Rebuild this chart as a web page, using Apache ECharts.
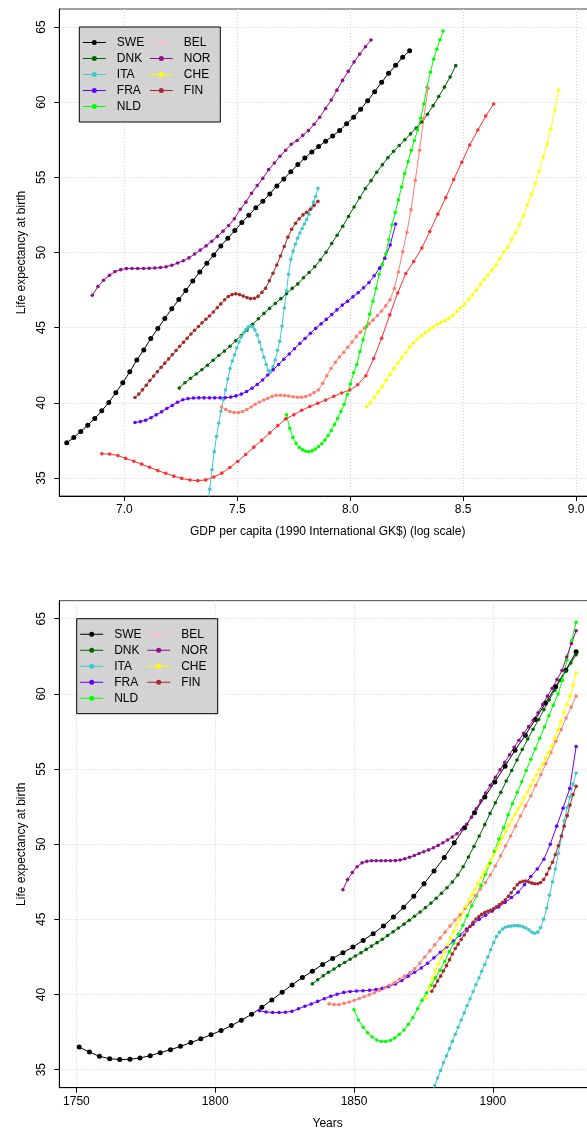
<!DOCTYPE html>
<html><head><meta charset="utf-8">
<script src="https://cdn.jsdelivr.net/npm/echarts@6/dist/echarts.min.js"></script>
<style>html,body{margin:0;padding:0;background:#fff}#c{width:587px;height:1133px}</style>
</head><body><div id="c"></div>
<script>
// ---------- DATA ----------
const countries = ['SWE','DNK','ITA','FRA','NLD','BEL','NOR','CHE','FIN'];
const xTicksTop = [7.0, 7.5, 8.0, 8.5, 9.0];
const xTicksBottom = [1750, 1800, 1850, 1900];
const yTicks = [35, 40, 45, 50, 55, 60, 65];

// Top panel: log GDP per capita vs life expectancy
const topSWE_x = [6.745,6.776,6.807,6.838,6.869,6.900,6.931,6.962,6.993,7.024,7.055,7.086,7.117,7.148,7.179,7.210,7.241,7.272,7.303,7.334,7.365,7.396,7.427,7.458,7.489,7.520,7.551,7.582,7.613,7.644,7.675,7.706,7.737,7.768,7.799,7.830,7.860,7.891,7.922,7.953,7.984,8.015,8.046,8.077,8.108,8.139,8.170,8.201,8.232,8.263];
const topSWE_y = [37.34,37.69,38.09,38.51,38.96,39.47,40.02,40.67,41.33,42.06,42.84,43.52,44.28,44.94,45.61,46.25,46.87,47.47,48.11,48.71,49.29,49.84,50.44,50.95,51.46,51.99,52.48,52.97,53.41,53.90,54.43,54.89,55.38,55.85,56.29,56.69,57.05,57.40,57.75,58.11,58.56,59.00,59.53,60.10,60.70,61.32,61.92,62.45,62.99,63.42];
const topDNK_x = [7.243,7.268,7.293,7.318,7.343,7.368,7.393,7.418,7.443,7.468,7.493,7.518,7.543,7.568,7.593,7.618,7.643,7.668,7.693,7.718,7.743,7.768,7.793,7.818,7.843,7.868,7.893,7.918,7.942,7.967,7.992,8.017,8.042,8.067,8.092,8.117,8.142,8.167,8.192,8.217,8.242,8.267,8.292,8.317,8.342,8.367,8.392,8.417,8.442,8.467];
const topDNK_y = [40.98,41.33,41.63,41.92,42.20,42.50,42.83,43.15,43.44,43.76,44.13,44.48,44.84,45.22,45.59,45.95,46.28,46.61,46.93,47.26,47.61,47.91,48.32,48.67,49.06,49.51,50.02,50.60,51.15,51.75,52.40,53.03,53.65,54.25,54.78,55.34,55.83,56.31,56.73,57.12,57.50,57.89,58.28,58.68,59.20,59.77,60.38,61.00,61.67,62.43];
const topITA_x = [7.368,7.378,7.388,7.398,7.408,7.418,7.428,7.438,7.448,7.458,7.468,7.478,7.488,7.498,7.508,7.518,7.528,7.538,7.548,7.558,7.568,7.578,7.588,7.598,7.608,7.618,7.628,7.638,7.648,7.658,7.668,7.678,7.688,7.698,7.708,7.718,7.727,7.737,7.747,7.757,7.767,7.777,7.787,7.797,7.807,7.817,7.827,7.837,7.847,7.857];
const topITA_y = [32.90,34.25,35.55,36.75,37.76,38.65,39.45,40.20,40.86,41.58,42.28,42.78,43.19,43.65,44.05,44.40,44.65,44.88,45.04,45.12,45.05,44.85,44.50,44.05,43.55,43.03,42.55,42.15,42.05,42.40,42.85,43.50,44.10,45.10,46.30,47.45,48.55,49.55,50.10,50.55,50.95,51.30,51.60,51.90,52.20,52.55,52.95,53.35,53.72,54.27];
const topFRA_x = [7.047,7.071,7.094,7.118,7.141,7.165,7.188,7.212,7.235,7.259,7.282,7.306,7.330,7.353,7.377,7.400,7.424,7.447,7.471,7.494,7.518,7.541,7.565,7.588,7.612,7.635,7.659,7.683,7.706,7.730,7.753,7.777,7.800,7.824,7.847,7.871,7.894,7.918,7.941,7.965,7.988,8.012,8.035,8.059,8.083,8.106,8.130,8.153,8.177,8.201];
const topFRA_y = [38.69,38.75,38.84,39.01,39.20,39.40,39.62,39.82,40.04,40.20,40.28,40.32,40.33,40.33,40.33,40.33,40.33,40.34,40.38,40.46,40.58,40.75,40.97,41.22,41.52,41.85,42.20,42.55,42.90,43.25,43.60,43.95,44.28,44.62,44.95,45.25,45.55,45.87,46.18,46.50,46.75,47.05,47.32,47.65,48.00,48.45,48.96,49.62,50.50,51.90];
const topNLD_x = [7.718,7.732,7.746,7.760,7.775,7.789,7.803,7.817,7.831,7.845,7.859,7.874,7.888,7.902,7.916,7.930,7.944,7.959,7.973,7.987,8.001,8.015,8.029,8.043,8.057,8.072,8.086,8.100,8.114,8.128,8.142,8.157,8.171,8.185,8.199,8.213,8.227,8.241,8.256,8.270,8.284,8.298,8.312,8.326,8.340,8.355,8.369,8.383,8.397,8.411];
const topNLD_y = [39.20,38.30,37.70,37.30,37.03,36.87,36.78,36.75,36.80,36.92,37.08,37.28,37.52,37.82,38.16,38.55,38.95,39.42,39.90,40.55,41.25,42.00,42.55,43.40,44.20,45.07,45.90,46.75,47.60,48.55,49.20,49.90,50.85,51.85,52.65,53.50,54.35,55.25,56.05,56.80,57.45,58.15,58.95,59.90,61.00,62.00,62.85,63.52,64.15,64.73];
const topBEL_x = [7.430,7.449,7.467,7.486,7.505,7.523,7.542,7.561,7.579,7.598,7.617,7.635,7.654,7.672,7.691,7.710,7.728,7.747,7.766,7.784,7.803,7.822,7.840,7.859,7.878,7.896,7.915,7.934,7.952,7.971,7.989,8.008,8.027,8.045,8.064,8.083,8.101,8.120,8.139,8.157,8.176,8.195,8.213,8.232,8.251,8.269,8.288,8.307,8.325,8.344];
const topBEL_y = [39.72,39.55,39.42,39.35,39.35,39.42,39.55,39.72,39.90,40.05,40.18,40.30,40.42,40.50,40.50,40.48,40.45,40.40,40.37,40.37,40.42,40.52,40.68,40.85,41.30,41.80,42.28,42.70,43.05,43.35,43.70,44.05,44.40,44.70,44.97,45.25,45.50,45.80,46.10,46.45,46.85,47.60,48.70,50.05,51.35,52.85,54.80,56.80,58.90,60.92];
const topNOR_x = [6.858,6.883,6.908,6.934,6.959,6.984,7.009,7.034,7.059,7.085,7.110,7.135,7.160,7.185,7.210,7.236,7.261,7.286,7.311,7.336,7.362,7.387,7.412,7.437,7.462,7.487,7.513,7.538,7.563,7.588,7.613,7.639,7.664,7.689,7.714,7.739,7.765,7.790,7.815,7.840,7.865,7.891,7.916,7.941,7.966,7.991,8.017,8.042,8.067,8.092];
const topNOR_y = [47.16,47.73,48.15,48.48,48.73,48.86,48.93,48.94,48.94,48.94,48.95,48.97,49.00,49.05,49.15,49.30,49.45,49.64,49.90,50.16,50.44,50.75,51.07,51.42,51.80,52.24,52.87,53.35,53.94,54.45,54.93,55.52,55.95,56.40,56.80,57.20,57.45,57.79,58.11,58.53,59.00,59.58,60.15,60.80,61.45,62.05,62.68,63.20,63.69,64.14];
const topCHE_x = [8.072,8.089,8.107,8.124,8.141,8.159,8.176,8.194,8.211,8.228,8.246,8.263,8.280,8.298,8.315,8.333,8.350,8.367,8.385,8.402,8.419,8.437,8.454,8.472,8.489,8.506,8.524,8.541,8.558,8.576,8.593,8.610,8.628,8.645,8.663,8.680,8.697,8.715,8.732,8.749,8.767,8.784,8.802,8.819,8.836,8.854,8.871,8.888,8.906,8.923];
const topCHE_y = [39.75,40.01,40.35,40.71,41.08,41.50,41.88,42.29,42.65,43.00,43.35,43.70,44.00,44.25,44.45,44.67,44.85,45.03,45.22,45.34,45.47,45.63,45.82,46.07,46.32,46.58,46.87,47.17,47.51,47.86,48.20,48.52,48.84,49.15,49.60,50.03,50.37,50.85,51.31,51.86,52.45,53.18,53.85,54.60,55.40,56.35,57.22,58.20,59.50,60.81];
const topFIN_x = [7.047,7.064,7.080,7.097,7.113,7.130,7.146,7.163,7.179,7.196,7.212,7.229,7.245,7.262,7.278,7.295,7.311,7.328,7.344,7.361,7.377,7.394,7.411,7.427,7.444,7.460,7.477,7.493,7.510,7.526,7.543,7.559,7.576,7.592,7.609,7.625,7.642,7.658,7.675,7.691,7.708,7.724,7.741,7.758,7.774,7.791,7.807,7.824,7.840,7.857];
const topFIN_y = [40.35,40.58,40.86,41.17,41.48,41.78,42.07,42.36,42.64,42.92,43.20,43.48,43.76,44.03,44.30,44.58,44.83,45.08,45.32,45.56,45.78,46.04,46.32,46.58,46.86,47.07,47.20,47.25,47.20,47.10,47.00,46.93,46.95,47.08,47.35,47.62,48.12,48.62,49.17,49.77,50.40,51.02,51.55,51.95,52.25,52.50,52.68,52.88,53.12,53.40];
// unlabelled red curve in the top panel
const topRed_x = [6.900,6.935,6.971,7.006,7.042,7.077,7.112,7.148,7.183,7.219,7.254,7.290,7.325,7.360,7.396,7.431,7.467,7.502,7.537,7.573,7.608,7.644,7.679,7.714,7.750,7.785,7.821,7.856,7.891,7.927,7.962,7.998,8.033,8.069,8.104,8.139,8.175,8.210,8.246,8.281,8.317,8.352,8.388,8.423,8.458,8.494,8.529,8.565,8.600,8.635];
const topRed_y = [36.61,36.59,36.49,36.30,36.11,35.92,35.71,35.49,35.31,35.12,34.97,34.86,34.82,34.87,35.06,35.32,35.70,36.10,36.56,37.05,37.50,38.00,38.48,38.93,39.20,39.50,39.75,39.97,40.18,40.43,40.65,40.85,41.20,41.80,42.95,44.30,45.85,47.30,48.60,49.40,50.30,51.40,52.55,53.65,54.85,56.00,57.15,58.15,59.08,59.88];

// Bottom panel: year vs life expectancy
const botSWE_x = [1751.0,1754.7,1758.3,1762.0,1765.6,1769.3,1772.9,1776.6,1780.2,1783.9,1787.5,1791.2,1794.8,1798.5,1802.1,1805.8,1809.4,1813.1,1816.8,1820.4,1824.1,1827.7,1831.4,1835.0,1838.7,1842.3,1846.0,1849.6,1853.3,1856.9,1860.6,1864.2,1867.9,1871.5,1875.2,1878.8,1882.5,1886.1,1889.8,1893.4,1897.1,1900.7,1904.4,1908.0,1911.7,1915.3,1919.0,1922.6,1926.3,1930.0];
const botSWE_y = [36.50,36.17,35.89,35.73,35.67,35.69,35.78,35.93,36.13,36.33,36.55,36.80,37.05,37.33,37.60,37.93,38.29,38.68,39.15,39.64,40.15,40.64,41.13,41.55,42.00,42.40,42.78,43.16,43.60,44.05,44.56,45.15,45.81,46.53,47.37,48.21,49.12,50.09,51.10,52.10,53.14,54.14,55.19,56.25,57.25,58.30,59.40,60.47,61.58,62.80];
const botDNK_x = [1835.0,1836.9,1838.9,1840.8,1842.8,1844.7,1846.6,1848.6,1850.5,1852.5,1854.4,1856.3,1858.3,1860.2,1862.1,1864.1,1866.0,1868.0,1869.9,1871.8,1873.8,1875.7,1877.7,1879.6,1881.5,1883.5,1885.4,1887.4,1889.3,1891.2,1893.2,1895.1,1897.1,1899.0,1900.9,1902.9,1904.8,1906.8,1908.7,1910.6,1912.6,1914.5,1916.5,1918.4,1920.3,1922.3,1924.2,1926.2,1928.1,1930.0];
const botDNK_y = [40.71,40.98,41.24,41.48,41.70,41.92,42.13,42.35,42.56,42.78,43.00,43.22,43.45,43.68,43.92,44.17,44.42,44.68,44.94,45.21,45.49,45.78,46.08,46.40,46.74,47.10,47.48,47.95,48.50,49.15,49.85,50.55,51.30,52.05,52.75,53.45,54.20,54.90,55.60,56.30,57.00,57.65,58.30,58.95,59.60,60.25,60.90,61.50,62.05,62.60];
const botITA_x = [1878.0,1879.1,1880.1,1881.2,1882.2,1883.3,1884.4,1885.4,1886.5,1887.5,1888.6,1889.7,1890.7,1891.8,1892.9,1893.9,1895.0,1896.0,1897.1,1898.2,1899.2,1900.3,1901.3,1902.4,1903.5,1904.5,1905.6,1906.6,1907.7,1908.8,1909.8,1910.9,1911.9,1913.0,1914.1,1915.1,1916.2,1917.2,1918.3,1919.4,1920.4,1921.5,1922.5,1923.6,1924.7,1925.7,1926.8,1927.8,1928.9,1930.0];
const botITA_y = [33.45,33.95,34.45,34.95,35.45,35.92,36.40,36.88,37.35,37.82,38.30,38.78,39.25,39.72,40.20,40.65,41.10,41.55,42.00,42.50,42.98,43.45,43.85,44.15,44.35,44.47,44.53,44.55,44.58,44.58,44.56,44.50,44.42,44.30,44.15,44.08,44.15,44.45,45.00,45.75,46.60,47.50,48.35,49.40,50.50,51.55,52.45,53.15,54.00,54.74];
const botFRA_x = [1816.0,1818.3,1820.7,1823.0,1825.3,1827.6,1830.0,1832.3,1834.6,1836.9,1839.3,1841.6,1843.9,1846.3,1848.6,1850.9,1853.2,1855.6,1857.9,1860.2,1862.5,1864.9,1867.2,1869.5,1871.8,1874.2,1876.5,1878.8,1881.1,1883.5,1885.8,1888.1,1890.5,1892.8,1895.1,1897.4,1899.8,1902.1,1904.4,1906.7,1909.1,1911.4,1913.7,1916.0,1918.4,1920.7,1923.0,1925.3,1927.7,1930.0];
const botFRA_y = [38.92,38.84,38.80,38.80,38.82,38.88,39.05,39.22,39.37,39.54,39.72,39.88,40.02,40.14,40.20,40.23,40.25,40.28,40.33,40.41,40.53,40.70,40.93,41.22,41.48,41.76,42.08,42.44,42.81,43.16,43.55,43.95,44.35,44.68,45.00,45.28,45.55,45.82,46.12,46.45,46.80,47.30,47.85,48.35,49.00,50.00,51.20,52.40,53.70,56.50];
const botNLD_x = [1850.0,1851.6,1853.3,1854.9,1856.5,1858.2,1859.8,1861.4,1863.1,1864.7,1866.3,1868.0,1869.6,1871.2,1872.9,1874.5,1876.1,1877.8,1879.4,1881.0,1882.7,1884.3,1885.9,1887.6,1889.2,1890.8,1892.4,1894.1,1895.7,1897.3,1899.0,1900.6,1902.2,1903.9,1905.5,1907.1,1908.8,1910.4,1912.0,1913.7,1915.3,1916.9,1918.6,1920.2,1921.8,1923.5,1925.1,1926.7,1928.4,1930.0];
const botNLD_y = [38.98,38.30,37.82,37.45,37.17,36.97,36.88,36.87,36.95,37.11,37.35,37.64,38.02,38.45,39.05,39.62,40.10,40.62,41.12,41.62,42.20,42.85,43.42,44.00,44.60,45.25,45.90,46.55,47.25,48.00,48.75,49.55,50.35,51.10,51.95,52.70,53.45,54.15,54.90,55.65,56.35,57.05,57.80,58.55,59.25,60.00,60.90,62.25,63.55,64.76];
const botBEL_x = [1841.0,1842.8,1844.6,1846.4,1848.3,1850.1,1851.9,1853.7,1855.5,1857.3,1859.2,1861.0,1862.8,1864.6,1866.4,1868.2,1870.1,1871.9,1873.7,1875.5,1877.3,1879.1,1881.0,1882.8,1884.6,1886.4,1888.2,1890.0,1891.9,1893.7,1895.5,1897.3,1899.1,1900.9,1902.8,1904.6,1906.4,1908.2,1910.0,1911.8,1913.7,1915.5,1917.3,1919.1,1920.9,1922.7,1924.6,1926.4,1928.2,1930.0];
const botBEL_y = [39.38,39.33,39.33,39.41,39.50,39.62,39.73,39.85,39.98,40.12,40.28,40.45,40.62,40.80,41.02,41.22,41.45,41.72,42.08,42.50,42.90,43.30,43.75,44.15,44.55,44.95,45.30,45.72,46.15,46.58,47.02,47.45,47.95,48.55,49.22,49.88,50.55,51.20,51.88,52.55,53.22,53.92,54.62,55.35,56.10,56.85,57.62,58.40,59.12,59.85];
const botNOR_x = [1846.0,1847.7,1849.4,1851.1,1852.9,1854.6,1856.3,1858.0,1859.7,1861.4,1863.1,1864.9,1866.6,1868.3,1870.0,1871.7,1873.4,1875.1,1876.9,1878.6,1880.3,1882.0,1883.7,1885.4,1887.1,1888.9,1890.6,1892.3,1894.0,1895.7,1897.4,1899.1,1900.9,1902.6,1904.3,1906.0,1907.7,1909.4,1911.1,1912.9,1914.6,1916.3,1918.0,1919.7,1921.4,1923.1,1924.9,1926.6,1928.3,1930.0];
const botNOR_y = [46.97,47.65,48.12,48.50,48.76,48.86,48.90,48.90,48.90,48.90,48.90,48.91,48.95,49.03,49.13,49.25,49.38,49.50,49.62,49.76,49.92,50.10,50.28,50.48,50.70,50.98,51.32,51.80,52.35,52.88,53.40,53.92,54.45,54.95,55.45,55.95,56.45,56.92,57.38,57.82,58.25,58.75,59.30,59.85,60.38,60.95,61.55,62.45,63.35,64.20];
const botCHE_x = [1876.0,1877.1,1878.2,1879.3,1880.4,1881.5,1882.6,1883.7,1884.8,1885.9,1887.0,1888.1,1889.2,1890.3,1891.4,1892.5,1893.6,1894.7,1895.8,1896.9,1898.0,1899.1,1900.2,1901.3,1902.4,1903.5,1904.7,1905.8,1906.9,1908.0,1909.1,1910.2,1911.3,1912.4,1913.5,1914.6,1915.7,1916.8,1917.9,1919.0,1920.1,1921.2,1922.3,1923.4,1924.5,1925.6,1926.7,1927.8,1928.9,1930.0];
const botCHE_y = [39.75,40.50,41.05,41.58,42.05,42.45,42.85,43.30,43.75,44.20,44.62,45.03,45.45,45.85,46.25,46.65,47.02,47.40,47.80,48.15,48.55,48.92,49.28,49.65,50.05,50.45,50.85,51.25,51.62,52.00,52.35,52.70,53.08,53.46,53.85,54.23,54.60,54.97,55.33,55.72,56.12,56.55,57.05,57.60,58.15,58.75,59.30,59.85,60.55,61.40];
const botFIN_x = [1878.0,1879.1,1880.1,1881.2,1882.2,1883.3,1884.4,1885.4,1886.5,1887.5,1888.6,1889.7,1890.7,1891.8,1892.9,1893.9,1895.0,1896.0,1897.1,1898.2,1899.2,1900.3,1901.3,1902.4,1903.5,1904.5,1905.6,1906.6,1907.7,1908.8,1909.8,1910.9,1911.9,1913.0,1914.1,1915.1,1916.2,1917.2,1918.3,1919.4,1920.4,1921.5,1922.5,1923.6,1924.7,1925.7,1926.8,1927.8,1928.9,1930.0];
const botFIN_y = [40.22,40.57,40.90,41.22,41.56,41.92,42.32,42.70,43.06,43.35,43.66,43.96,44.24,44.53,44.80,45.02,45.19,45.33,45.45,45.54,45.61,45.71,45.84,45.98,46.13,46.30,46.53,46.77,47.05,47.30,47.47,47.54,47.55,47.49,47.41,47.37,47.37,47.45,47.65,48.00,48.40,48.80,49.30,49.90,50.55,51.20,51.90,52.60,53.30,53.85];

// ---------- STYLE ----------
const FONT = "'Liberation Sans', Arial, Helvetica, sans-serif";
const lineColors = {SWE:'#000000', DNK:'#006400', ITA:'#40C8CE', FRA:'#6400FF', NLD:'#00FF00',
  BEL:'#FA8072', NOR:'#8E0E8E', CHE:'#FFFF00', FIN:'#A52A2A', RED:'#FF3030'};
const legendColors = Object.assign({}, lineColors, {BEL:'#FFC0CB'});

const topData = {SWE:[topSWE_x,topSWE_y], DNK:[topDNK_x,topDNK_y], ITA:[topITA_x,topITA_y], FRA:[topFRA_x,topFRA_y],
  NLD:[topNLD_x,topNLD_y], BEL:[topBEL_x,topBEL_y], NOR:[topNOR_x,topNOR_y], CHE:[topCHE_x,topCHE_y], FIN:[topFIN_x,topFIN_y]};
const botData = {SWE:[botSWE_x,botSWE_y], DNK:[botDNK_x,botDNK_y], ITA:[botITA_x,botITA_y], FRA:[botFRA_x,botFRA_y],
  NLD:[botNLD_x,botNLD_y], BEL:[botBEL_x,botBEL_y], NOR:[botNOR_x,botNOR_y], CHE:[botCHE_x,botCHE_y], FIN:[botFIN_x,botFIN_y]};

function mk(name, xs, ys, color, idx) {
  return {
    type: 'line', name: name, xAxisIndex: idx, yAxisIndex: idx,
    data: xs.map((x, i) => [x, ys[i]]),
    symbol: 'circle', symbolSize: name === 'SWE' ? 5 : 3.6, showSymbol: true,
    lineStyle: { color: color, width: 1 }, itemStyle: { color: color, borderWidth: 0 },
    clip: true, silent: true, animation: false, emphasis: { disabled: true }
  };
}

const series = [];
countries.forEach(c => series.push(mk(c, topData[c][0], topData[c][1], lineColors[c], 0)));
series.push(mk('extra', topRed_x, topRed_y, lineColors.RED, 0));
countries.forEach(c => series.push(mk(c, botData[c][0], botData[c][1], lineColors[c], 1)));

const legendIcon = 'path://M0,0h0.01v0.01h-0.01z M23,14h-0.01v-0.01h0.01z M0,6.5h23v1h-23z M14,7a2.5,2.5 0 1,1 -5,0a2.5,2.5 0 1,1 5,0z';
function legendCfg(left, top) {
  return {
    show: true, orient: 'vertical', left: left, top: top, height: 80,
    itemGap: 2, itemWidth: 23, itemHeight: 14,
    padding: [8.5, 5.5, 8.5, 3.5],
    backgroundColor: '#D3D3D3', borderColor: '#000', borderWidth: 1, borderRadius: 0,
    icon: legendIcon, itemStyle: { borderWidth: 0 }, selectedMode: false,
    textStyle: { fontFamily: FONT, fontSize: 12, color: '#000', width: 31, padding: [0, 0, 0, 6], lineHeight: 14 },
    data: countries.map(c => ({ name: c, itemStyle: { color: legendColors[c] } }))
  };
}

function yAx(idx) {
  return {
    type: 'value', gridIndex: idx, min: 33.8, max: 66.2,
    name: 'Life expectancy at birth', nameLocation: 'middle', nameGap: 31, nameRotate: 90,
    nameTextStyle: { fontFamily: FONT, fontSize: 12, color: '#000' },
    axisLine: { show: true, lineStyle: { color: '#000', width: 1 } },
    axisTick: { show: true, length: 5, customValues: yTicks, lineStyle: { color: '#000' } },
    axisLabel: { customValues: yTicks, rotate: 90, margin: 12, fontFamily: FONT, fontSize: 12, color: '#000' },
    splitLine: { show: true, lineStyle: { color: '#D3D3D3', width: 1, type: [1, 2] } }
  };
}
function xAx(idx, min, max, ticks, name, fmt) {
  return {
    type: 'value', gridIndex: idx, min: min, max: max,
    name: name, nameLocation: 'middle', nameGap: 30,
    nameTextStyle: { fontFamily: FONT, fontSize: 12, color: '#000' },
    axisLine: { show: true, onZero: false, lineStyle: { color: '#000', width: 1 } },
    axisTick: { show: true, length: 5, customValues: ticks, lineStyle: { color: '#000' } },
    axisLabel: { customValues: ticks, margin: 8, fontFamily: FONT, fontSize: 12, color: '#000', formatter: fmt },
    splitLine: { show: true, lineStyle: { color: '#D3D3D3', width: 1, type: [1, 2] } }
  };
}

const chart = echarts.init(document.getElementById('c'), null, { renderer: 'canvas' });
chart.setOption({
  animation: false,
  backgroundColor: '#fff',
  grid: [
    { left: 59.3, top: 9, width: 536.7, height: 487, show: true, borderColor: '#444', borderWidth: 1,
      backgroundColor: 'transparent', containLabel: false, outerBoundsMode: 'none' },
    { left: 59.3, top: 600.7, width: 536.7, height: 487, show: true, borderColor: '#444', borderWidth: 1,
      backgroundColor: 'transparent', containLabel: false, outerBoundsMode: 'none' }
  ],
  xAxis: [
    xAx(0, 6.712, 9.088, xTicksTop, 'GDP per capita (1990 International GK$) (log scale)', v => v.toFixed(1)),
    xAx(1, 1743.84, 1937.16, xTicksBottom, 'Years', v => String(Math.round(v)))
  ],
  yAxis: [yAx(0), yAx(1)],
  legend: [legendCfg(79.3, 27), legendCfg(76.7, 618.7)],
  series: series
});
</script></body></html>
